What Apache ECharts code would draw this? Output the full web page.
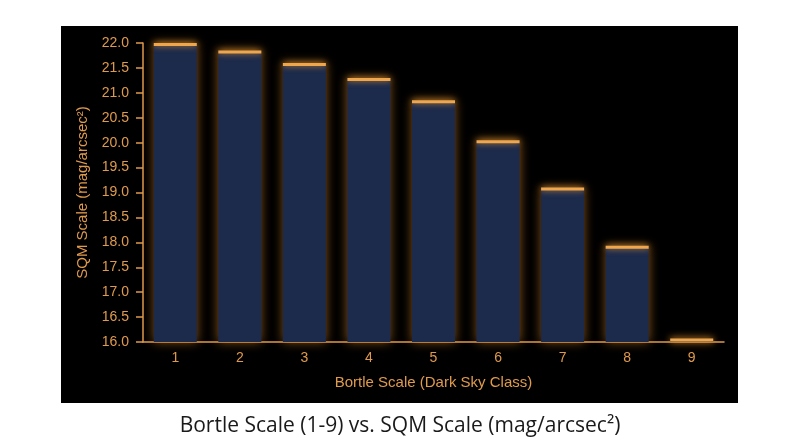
<!DOCTYPE html>
<html>
<head>
<meta charset="utf-8">
<script src="https://cdn.jsdelivr.net/npm/echarts@6/dist/echarts.min.js"></script>
<style>
  html, body { margin: 0; padding: 0; background: #fff; }
  #main { width: 800px; height: 447px; }
</style>
</head>
<body>
<div id="main"></div>
<script>
// Bortle class vs SQM reading
var bortleClass = ['1', '2', '3', '4', '5', '6', '7', '8', '9'];
var sqmValues = [22.0, 21.85, 21.6, 21.3, 20.85, 20.05, 19.1, 17.93, 16.07];
var sqmTicks = [16.0, 22.0, 0.5]; // min, max, step

var orange = '#f0a64a';
var labelColor = '#e09a4c';
var axisFont = "'Liberation Sans', Arial, Helvetica, sans-serif";

var option = {
    backgroundColor: '#ffffff',
    animation: false,
    title: {
        text: 'Bortle Scale (1-9) vs. SQM Scale (mag/arcsec\u00b2)',
        left: 'center',
        top: 411,
        textStyle: {
            color: '#1a1a1a',
            fontFamily: "'Open Sans', sans-serif",
            fontSize: 21,
            fontWeight: 'normal'
        }
    },
    graphic: [{
        type: 'rect',
        z: -10,
        shape: { x: 61, y: 26, width: 677, height: 377 },
        style: { fill: '#000000' }
    }],
    grid: {
        left: 143,
        right: 76,
        top: 43,
        bottom: 105
    },
    xAxis: {
        type: 'category',
        data: bortleClass,
        name: 'Bortle Scale (Dark Sky Class)',
        nameLocation: 'middle',
        nameGap: 33,
        nameTextStyle: { color: labelColor, fontSize: 15, fontFamily: axisFont },
        axisLine: { lineStyle: { color: labelColor, width: 1.5 } },
        axisTick: { show: false },
        axisLabel: { color: labelColor, fontSize: 14, margin: 9, fontFamily: axisFont }
    },
    yAxis: {
        type: 'value',
        min: sqmTicks[0],
        max: sqmTicks[1],
        interval: sqmTicks[2],
        name: 'SQM Scale (mag/arcsec\u00b2)',
        nameLocation: 'middle',
        nameGap: 53,
        nameTextStyle: { color: labelColor, fontSize: 15, fontFamily: axisFont },
        axisLine: { show: true, lineStyle: { color: labelColor, width: 1.5 } },
        axisTick: { show: true, length: 7, lineStyle: { color: labelColor, width: 1.5 } },
        axisLabel: {
            color: labelColor, fontSize: 14, margin: 14, fontFamily: axisFont,
            formatter: function (v) { return v.toFixed(1); }
        },
        splitLine: { show: false }
    },
    series: [
        {
            name: 'SQM',
            type: 'bar',
            data: sqmValues,
            barWidth: 43,
            itemStyle: {
                color: '#1c2a4b',
                shadowBlur: 10,
                shadowColor: 'rgba(240,150,50,0.55)'
            },
            z: 2
        },
        {
            // bright cap on each bar
            name: 'cap',
            type: 'pictorialBar',
            data: sqmValues,
            symbol: 'rect',
            symbolSize: [43, 3],
            symbolPosition: 'end',
            barGap: '-100%',
            itemStyle: {
                color: orange,
                shadowBlur: 6,
                shadowColor: 'rgba(255,170,60,0.8)'
            },
            z: 5
        }
    ]
};

var myChart = echarts.init(document.getElementById('main'));
myChart.setOption(option);
</script>
</body>
</html>
